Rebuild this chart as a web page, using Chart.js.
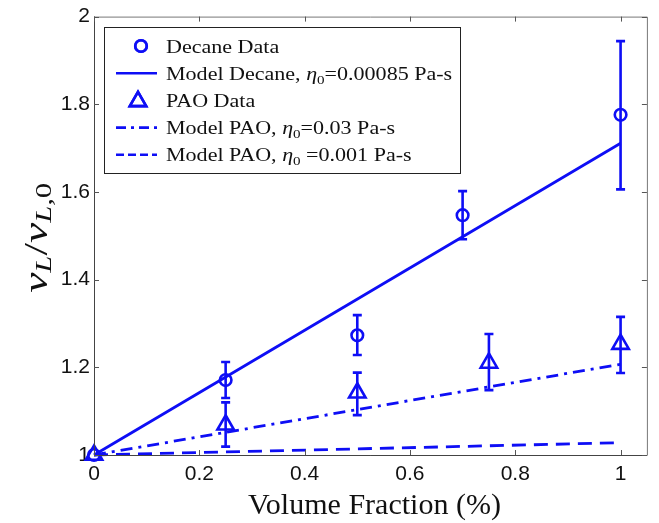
<!DOCTYPE html>
<html lang="en">
<head>
<meta charset="UTF-8">
<title>Frequency ratio vs volume fraction</title>
<script src="https://cdn.jsdelivr.net/npm/chart.js@4.4.0/dist/chart.umd.min.js"></script>
<style>
  html, body { margin: 0; padding: 0; background: #fff; }
  #wrap { width: 659px; height: 523px; }
</style>
</head>
<body>
<div id="wrap"><canvas id="chart" width="659" height="523"></canvas></div>
<script>
const decaneX = [0, 0.25, 0.5, 0.7, 1];
const decaneY = [1, 1.171, 1.273, 1.547, 1.776];
const decaneLow = [null, 1.130, 1.228, 1.492, 1.606];
const decaneHigh = [null, 1.212, 1.319, 1.602, 1.944];

const paoX = [0, 0.25, 0.5, 0.75, 1];
const paoY = [1, 1.069, 1.142, 1.210, 1.253];
const paoLow = [null, 1.019, 1.091, 1.148, 1.187];
const paoHigh = [null, 1.120, 1.188, 1.276, 1.315];

// model curves
const modelX = [0, 1];
const modelDecane = [1, 1.711];
const modelPao03 = [1, 1.207];
const modelPao001 = [1, 1.028];

const xTicks = [0, 0.2, 0.4, 0.6, 0.8, 1];
const yTicks = [1, 1.2, 1.4, 1.6, 1.8, 2];

const labels = [
    'Decane Data',
    'Model Decane, η0=0.00085 Pa-s',
    'PAO Data',
    'Model PAO, η0=0.03 Pa-s',
    'Model PAO, η0 =0.001 Pa-s'
];
// same labels split for drawing (r = roman, i = italic, s = subscript)
const legendParts = [
    [['Decane Data', 'r']],
    [['Model Decane, ', 'r'], ['η', 'i'], ['0', 's'], ['=0.00085 Pa-s', 'r']],
    [['PAO Data', 'r']],
    [['Model PAO, ', 'r'], ['η', 'i'], ['0', 's'], ['=0.03 Pa-s', 'r']],
    [['Model PAO, ', 'r'], ['η', 'i'], ['0', 's'], [' =0.001 Pa-s', 'r']]
];
const yTitleParts = [['ν', 'i'], ['L', 'si'], ['/', 'r'], ['ν', 'i'], ['L,', 'si'], ['0', 's']];
const xTitle = 'Volume Fraction (%)';

const BLUE = 'rgb(14,14,245)';
const SERIF = '"Liberation Serif", serif';
const SANS = '"Liberation Sans", Arial, sans-serif';

const pts = (xs, ys) => xs.map((x, i) => ({ x: x, y: ys[i] }));

function setFont(ctx, style, size) {
    const sub = Math.round(size * 0.68);
    if (style === 'i') ctx.font = 'italic ' + size + 'px ' + SERIF;
    else if (style === 's') ctx.font = sub + 'px ' + SERIF;
    else if (style === 'si') ctx.font = 'italic ' + sub + 'px ' + SERIF;
    else ctx.font = size + 'px ' + SERIF;
}
function richWidth(ctx, parts, size) {
    let w = 0;
    parts.forEach(([t, s]) => { setFont(ctx, s, size); w += ctx.measureText(t).width; });
    return w;
}
// draws at current origin, squeezed/stretched to given width
function drawRich(ctx, parts, x, y, size, width, drop) {
    const sx = width ? width / richWidth(ctx, parts, size) : 1;
    ctx.save();
    ctx.translate(x, y);
    ctx.scale(sx, 1);
    let cx = 0;
    parts.forEach(([t, s]) => {
        setFont(ctx, s, size);
        const dy = (s === 's' || s === 'si') ? drop : 0;
        ctx.fillText(t, cx, dy);
        cx += ctx.measureText(t).width;
    });
    ctx.restore();
}

const decor = {
    id: 'decor',
    afterDatasetsDraw(chart) {
        const ctx = chart.ctx;
        const xs = chart.scales.x, ys = chart.scales.y;
        // error bars
        ctx.save();
        ctx.strokeStyle = BLUE;
        ctx.lineWidth = 2.6;
        const bars = (xv, lo, hi) => {
            xv.forEach((x, i) => {
                if (lo[i] == null) return;
                const px = xs.getPixelForValue(x);
                const p1 = ys.getPixelForValue(lo[i]);
                const p2 = ys.getPixelForValue(hi[i]);
                ctx.beginPath();
                ctx.moveTo(px, p1); ctx.lineTo(px, p2);
                ctx.moveTo(px - 4.5, p1); ctx.lineTo(px + 4.5, p1);
                ctx.moveTo(px - 4.5, p2); ctx.lineTo(px + 4.5, p2);
                ctx.stroke();
            });
        };
        bars(decaneX, decaneLow, decaneHigh);
        bars(paoX, paoLow, paoHigh);
        ctx.restore();
    },
    afterDraw(chart) {
        const ctx = chart.ctx;
        const a = chart.chartArea;
        const xs = chart.scales.x, ys = chart.scales.y;
        ctx.save();
        // box and inward ticks
        ctx.lineWidth = 1;
        ctx.strokeStyle = '#777';
        ctx.beginPath();
        ctx.moveTo(a.left, a.top + 0.5); ctx.lineTo(a.right + 0.5, a.top + 0.5); ctx.lineTo(a.right + 0.5, a.bottom);
        ctx.stroke();
        ctx.strokeStyle = '#444';
        ctx.beginPath();
        ctx.moveTo(a.left + 0.5, a.top); ctx.lineTo(a.left + 0.5, a.bottom + 0.5); ctx.lineTo(a.right + 0.5, a.bottom + 0.5);
        ctx.stroke();
        ctx.strokeStyle = '#555';
        ctx.beginPath();
        xTicks.forEach(v => {
            const px = Math.round(xs.getPixelForValue(v)) + 0.5;
            ctx.moveTo(px, a.bottom); ctx.lineTo(px, a.bottom - 5);
            ctx.moveTo(px, a.top); ctx.lineTo(px, a.top + 5);
        });
        yTicks.forEach(v => {
            const py = Math.round(ys.getPixelForValue(v)) + 0.5;
            ctx.moveTo(a.left, py); ctx.lineTo(a.left + 5, py);
            ctx.moveTo(a.right, py); ctx.lineTo(a.right - 5, py);
        });
        ctx.stroke();

        // axis titles
        ctx.fillStyle = '#111';
        ctx.textAlign = 'left';
        ctx.textBaseline = 'alphabetic';
        drawRich(ctx, [[xTitle, 'r']], 248, 514, 29, 253, 0);

        ctx.translate(47, (a.top + a.bottom) / 2 + 2);
        ctx.rotate(-Math.PI / 2);
        drawRich(ctx, yTitleParts, -55, 0, 34, 110, 4);
        ctx.setTransform(1, 0, 0, 1, 0, 0);

        // legend
        const L = { x: 104.5, y: 27.5, w: 356, h: 146 };
        const legendDash = [null, [], null, [10, 5, 3, 5], [8, 4]];
        ctx.fillStyle = '#fff';
        ctx.fillRect(L.x, L.y, L.w, L.h);
        ctx.strokeStyle = '#222';
        ctx.lineWidth = 1;
        ctx.strokeRect(L.x, L.y, L.w, L.h);
        const ds = chart.data.datasets;
        ds.forEach((d, i) => {
            const cy = 46 + i * 27.2;
            ctx.strokeStyle = BLUE;
            ctx.lineWidth = 2.6;
            if (d.showLine) {
                ctx.setLineDash(legendDash[i]);
                ctx.beginPath();
                ctx.moveTo(116, cy); ctx.lineTo(157, cy);
                ctx.stroke();
                ctx.setLineDash([]);
            } else {
                ctx.fillStyle = 'rgba(0,0,0,0)';
                const px = d.pointStyle === 'circle' ? 141 : 138;
                const py = d.pointStyle === 'circle' ? cy : cy + 1;
                Chart.helpers.drawPoint(ctx, {
                    pointStyle: d.pointStyle, radius: d.pointRadius, rotation: 0,
                    borderWidth: d.pointBorderWidth
                }, px, py);
                ctx.stroke();
            }
            ctx.fillStyle = '#111';
            const w = richWidth(ctx, legendParts[i], 19) * 1.16;
            drawRich(ctx, legendParts[i], 166, cy + 6.5, 19, w, 4);
        });
        ctx.restore();
    }
};

new Chart(document.getElementById('chart'), {
    type: 'scatter',
    data: {
        datasets: [
            {
                label: labels[0], data: pts(decaneX, decaneY), showLine: false,
                pointStyle: 'circle', pointRadius: 5.8, pointBorderWidth: 2.6,
                borderColor: BLUE, backgroundColor: 'rgba(0,0,0,0)', clip: false
            },
            {
                label: labels[1], data: pts(modelX, modelDecane), showLine: true,
                borderColor: BLUE, borderWidth: 2.8, pointRadius: 0, clip: false
            },
            {
                label: labels[2], data: pts(paoX, paoY), showLine: false,
                pointStyle: 'triangle', pointRadius: 9.5, pointBorderWidth: 2.6,
                borderColor: BLUE, backgroundColor: 'rgba(0,0,0,0)', clip: false
            },
            {
                label: labels[3], data: pts(modelX, modelPao03), showLine: true,
                borderColor: BLUE, borderWidth: 2.8, pointRadius: 0, borderDash: [12, 6, 3, 6], clip: false
            },
            {
                label: labels[4], data: pts(modelX, modelPao001), showLine: true,
                borderColor: BLUE, borderWidth: 2.8, pointRadius: 0, borderDash: [14, 8], clip: false
            }
        ]
    },
    options: {
        responsive: false,
        animation: false,
        devicePixelRatio: 1,
        layout: { padding: { left: 0, top: 16, right: 9, bottom: 0 } },
        plugins: { legend: { display: false }, tooltip: { enabled: false } },
        scales: {
            x: {
                type: 'linear', min: 0, max: 1.05,
                afterBuildTicks: s => { s.ticks = xTicks.map(v => ({ value: v })); },
                afterFit: s => { s.height = 68; },
                grid: { display: false, drawTicks: false },
                border: { display: false },
                ticks: { padding: 7, color: '#111', font: { family: SANS, size: 21 }, callback: v => String(v), maxRotation: 0 }
            },
            y: {
                type: 'linear', min: 1, max: 2,
                afterBuildTicks: s => { s.ticks = yTicks.map(v => ({ value: v })); },
                afterFit: s => { s.width = 94; },
                grid: { display: false, drawTicks: false },
                border: { display: false },
                ticks: { padding: 4, color: '#111', font: { family: SANS, size: 21 }, callback: v => String(v) }
            }
        }
    },
    plugins: [decor]
});
</script>
</body>
</html>
